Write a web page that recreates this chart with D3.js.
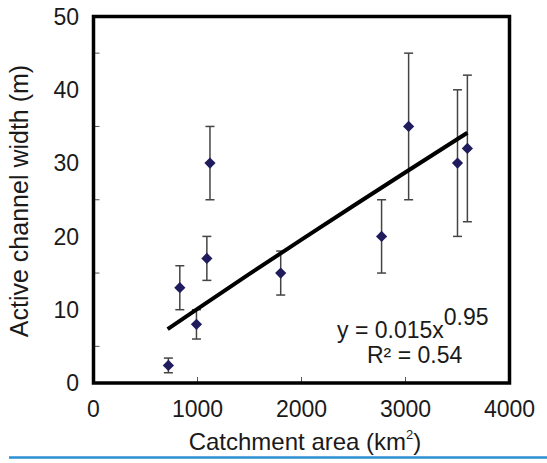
<!DOCTYPE html>
<html><head><meta charset="utf-8">
<script src="https://cdn.jsdelivr.net/npm/d3@7"></script>
<style>body{margin:0;background:#fff}svg{display:block}text{font-family:"Liberation Sans",Arial,sans-serif;fill:#1a1a1a}</style>
</head><body><svg id="c" width="547" height="463"></svg>
<script>
const area   = [720, 830, 990, 1090, 1120, 1800, 2770, 3030, 3500, 3595];
const width  = [2.4, 13, 8, 17, 30, 15, 20, 35, 30, 32];
const errLow = [1.4, 10, 6, 14, 25, 12, 15, 25, 20, 22];
const errHigh= [3.4, 16, 10, 20, 35, 18, 25, 45, 40, 42];
const xTickLabels = [0, 1000, 2000, 3000, 4000];
const yTickLabels = [0, 10, 20, 30, 40, 50];
const yMinorTicks = [5, 15, 25, 35, 45];
const xInnerTicks = [1000, 2000, 3000];
const fitCoef = 0.0143, fitExp = 0.95;
const fitSamples = [713, 1000, 1500, 2000, 2500, 3000, 3595];

const svg = d3.select("#c");
const x = d3.scaleLinear().domain([0, 4000]).range([93.5, 509.5]);
const y = d3.scaleLinear().domain([0, 50]).range([383, 16.5]);

// inner ticks
svg.selectAll(".yt").data(yMinorTicks).join("line")
  .attr("x1", x(0)).attr("x2", x(0) + 6).attr("y1", d => y(d)).attr("y2", d => y(d))
  .attr("stroke", "#555").attr("stroke-width", 1);
svg.selectAll(".xt").data(xInnerTicks).join("line")
  .attr("x1", d => x(d)).attr("x2", d => x(d)).attr("y1", y(0)).attr("y2", y(0) - 6)
  .attr("stroke", "#555").attr("stroke-width", 1);

// frame
svg.append("rect").attr("x", x(0)).attr("y", y(50))
  .attr("width", x(4000) - x(0)).attr("height", y(0) - y(50))
  .attr("fill", "none").attr("stroke", "#000").attr("stroke-width", 3.5);

// tick labels
svg.selectAll(".yl").data(yTickLabels).join("text")
  .attr("x", 79).attr("y", d => y(d)).attr("dy", "0.36em")
  .attr("text-anchor", "end").attr("font-size", 23).text(d => d);
svg.selectAll(".xl").data(xTickLabels).join("text")
  .attr("x", d => x(d)).attr("y", 417)
  .attr("text-anchor", "middle").attr("font-size", 23).text(d => d);

// error bars
const data = area.map((a, i) => ({a, w: width[i], lo: errLow[i], hi: errHigh[i]}));
const eb = svg.append("g").attr("stroke", "#444").attr("stroke-width", 1.5);
eb.selectAll(".v").data(data).join("line")
  .attr("x1", d => x(d.a)).attr("x2", d => x(d.a)).attr("y1", d => y(d.lo)).attr("y2", d => y(d.hi));
eb.selectAll(".c1").data(data).join("line")
  .attr("x1", d => x(d.a) - 4.5).attr("x2", d => x(d.a) + 4.5).attr("y1", d => y(d.lo)).attr("y2", d => y(d.lo));
eb.selectAll(".c2").data(data).join("line")
  .attr("x1", d => x(d.a) - 4.5).attr("x2", d => x(d.a) + 4.5).attr("y1", d => y(d.hi)).attr("y2", d => y(d.hi));

// markers
svg.selectAll(".m").data(data).join("path")
  .attr("d", d3.symbol().type(d3.symbolDiamond2).size(80))
  .attr("transform", d => `translate(${x(d.a)},${y(d.w)})`)
  .attr("fill", "#1f1b5c");

// trend line
const line = d3.line().x(d => x(d)).y(d => y(fitCoef * Math.pow(d, fitExp)));
svg.append("path").datum(fitSamples).attr("d", line)
  .attr("fill", "none").attr("stroke", "#000").attr("stroke-width", 4);

// equation
const eq = svg.append("text").attr("x", 337).attr("y", 338).attr("font-size", 23);
eq.append("tspan").text("y = 0.015x");
eq.append("tspan").attr("dy", -13).text("0.95");
svg.append("text").attr("x", 367).attr("y", 363).attr("font-size", 23).text("R² = 0.54");

// axis titles
const xt = svg.append("text").attr("x", 305).attr("y", 450).attr("text-anchor", "middle").attr("font-size", 24);
xt.append("tspan").text("Catchment area (km");
xt.append("tspan").attr("font-size", 13).attr("dy", -11).text("2");
xt.append("tspan").attr("dy", 11).text(")");
svg.append("text").attr("transform", "translate(28,201) rotate(-90)")
  .attr("text-anchor", "middle").attr("font-size", 25).text("Active channel width (m)");

// bottom blue rule
svg.append("line").attr("x1", 9).attr("x2", 547).attr("y1", 457.5).attr("y2", 457.5)
  .attr("stroke", "#2b8fd3").attr("stroke-width", 2.5);
</script></body></html>
